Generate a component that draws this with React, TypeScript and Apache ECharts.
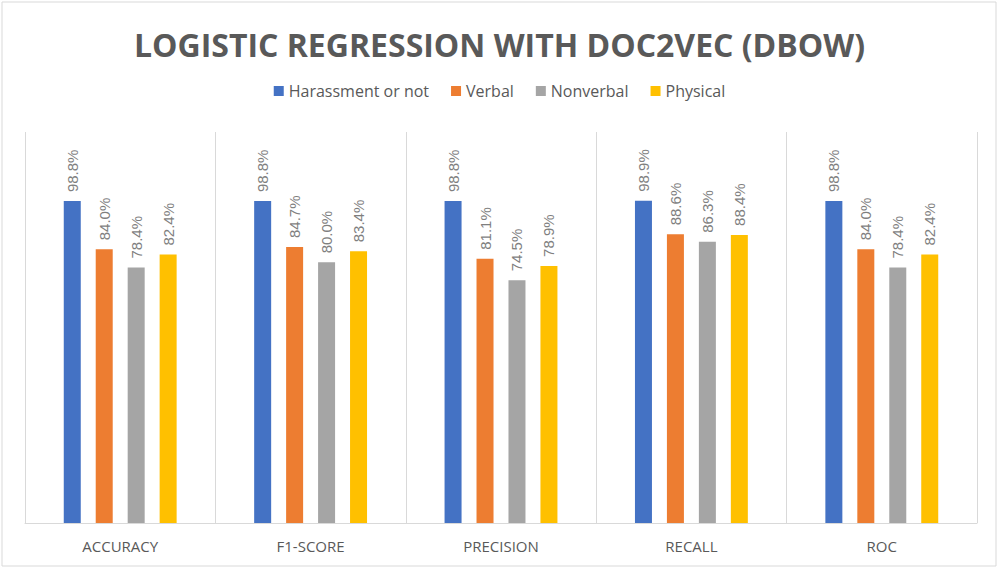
import React, { useEffect, useRef } from "react";
import * as echarts from "echarts";

const categories = ["ACCURACY", "F1-SCORE", "PRECISION", "RECALL", "ROC"];
const seriesNames = ["Harassment or not", "Verbal", "Nonverbal", "Physical"];
const harassment = [98.8, 98.8, 98.8, 98.9, 98.8];
const verbal = [84.0, 84.7, 81.1, 88.6, 84.0];
const nonverbal = [78.4, 80.0, 74.5, 86.3, 78.4];
const physical = [82.4, 83.4, 78.9, 88.4, 82.4];
const colors = ["#4472C4", "#ED7D31", "#A5A5A5", "#FFC000"];

export default function App() {
  const ref = useRef<HTMLDivElement>(null);
  useEffect(() => {
    if (!ref.current) return;
    const chart = echarts.init(ref.current, undefined, { renderer: "svg" });
    const values = [harassment, verbal, nonverbal, physical];
    chart.setOption({
      animation: false,
      backgroundColor: "#ffffff",
      title: {
        text: "LOGISTIC REGRESSION WITH DOC2VEC (DBOW)",
        left: "center",
        top: 23,
        textStyle: {
          fontFamily: "Open Sans",
          fontWeight: "bold",
          fontSize: 32,
          color: "#595959",
        },
      },
      legend: {
        top: 78,
        left: "center",
        itemWidth: 10,
        itemHeight: 10,
        itemGap: 22,
        icon: "rect",
        textStyle: { fontFamily: "Open Sans", fontSize: 16, color: "#595959" },
        data: seriesNames,
      },
      graphic: [
        {
          type: "rect",
          shape: { x: 2, y: 2, width: 994, height: 564 },
          style: { fill: "none", stroke: "#d9d9d9", lineWidth: 1 },
          silent: true,
        },
      ],
      grid: { left: 25, right: 22, top: 132, bottom: 45 },
      xAxis: {
        type: "category",
        data: categories,
        axisLine: { lineStyle: { color: "#d9d9d9", width: 1 } },
        axisTick: { show: false },
        splitLine: { show: true, lineStyle: { color: "#d9d9d9", width: 1 } },
        axisLabel: {
          fontFamily: "Open Sans",
          fontSize: 15,
          color: "#595959",
          margin: 15,
        },
      },
      yAxis: {
        type: "value",
        min: 0,
        max: 120,
        show: false,
        splitLine: { show: false },
      },
      series: seriesNames.map((name, i) => ({
        name,
        type: "bar",
        data: values[i],
        barWidth: 17,
        barGap: "88%",
        itemStyle: { color: colors[i] },
        label: {
          show: true,
          position: "top",
          rotate: 90,
          align: "left",
          verticalAlign: "middle",
          distance: 9,
          fontFamily: "Liberation Sans",
          fontSize: 15,
          color: "#7f7f7f",
          formatter: (p: any) => p.value.toFixed(1) + "%",
        },
      })),
    });
    return () => chart.dispose();
  }, []);
  return (
    <div
      ref={ref}
      style={{ position: "fixed", left: 0, top: 0, width: 999, height: 568 }}
    />
  );
}
